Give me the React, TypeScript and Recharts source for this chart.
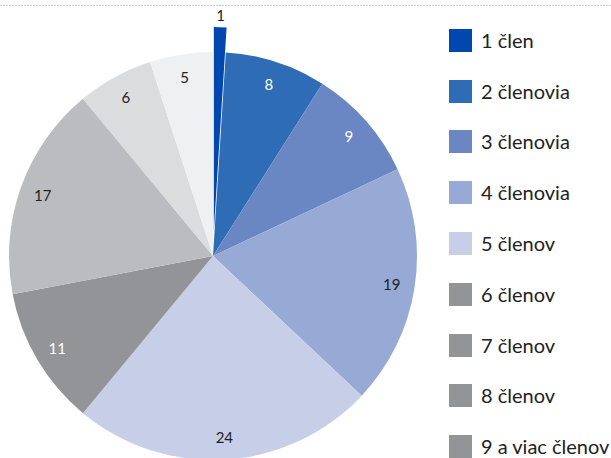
import React from "react";
import { PieChart, Pie, Cell } from "recharts";

const categories = ["1 člen", "2 členovia", "3 členovia", "4 členovia", "5 členov", "6 členov", "7 členov", "8 členov", "9 a viac členov"];
const values = [1, 8, 9, 19, 24, 11, 17, 6, 5];
const sliceColors = ["#0047b0", "#2e6db5", "#6a87c3", "#97aad5", "#c7cfe8", "#939497", "#bbbcbf", "#dbdcde", "#eff0f2"];
const legendColors = ["#0047b0", "#2e6db5", "#6a87c3", "#97aad5", "#c7cfe8", "#939497", "#939497", "#939497", "#939497"];
const labelColors = ["#222", "#fff", "#fff", "#222", "#222", "#fff", "#222", "#222", "#222"];

const data = categories.map((name, i) => ({ name, value: values[i] }));

const RADIAN = Math.PI / 180;
const FONT = "Lato, 'Open Sans', sans-serif";

const renderLabel = (props: any) => {
  const { cx, cy, midAngle, outerRadius, index, value } = props;
  if (index === 0) return null;
  const r = outerRadius - 23;
  const x = cx + r * Math.cos(-midAngle * RADIAN);
  const y = cy + r * Math.sin(-midAngle * RADIAN);
  return (
    <text x={x} y={y} fill={labelColors[index]} textAnchor="middle" dominantBaseline="central" fontSize={15} fontFamily={FONT}>
      {value}
    </text>
  );
};

const renderLabelExploded = (props: any) => {
  const { cx, cy, midAngle, outerRadius, index, value } = props;
  if (index !== 0) return null;
  const r = outerRadius + 12;
  const x = cx + r * Math.cos(-midAngle * RADIAN);
  const y = cy + r * Math.sin(-midAngle * RADIAN);
  return (
    <text x={x} y={y} fill="#222" textAnchor="middle" dominantBaseline="central" fontSize={15} fontFamily={FONT}>
      {value}
    </text>
  );
};

export default function App() {
  const cx = 213;
  const cy = 256;
  const R = 204;
  const explode = 25;
  const firstMid = 90 - (values[0] / values.reduce((a, b) => a + b, 0)) * 180;
  const ecx = cx + explode * Math.cos(firstMid * RADIAN);
  const ecy = cy - explode * Math.sin(firstMid * RADIAN);
  return (
    <div style={{ position: "absolute", left: 0, top: 0, width: 611, height: 458, background: "#fff", fontFamily: FONT, overflow: "hidden" }}>
      <svg width={611} height={10} style={{ position: "absolute", left: 0, top: 0 }}>
        <line x1={0} y1={5.5} x2={611} y2={5.5} stroke="#cfcfcf" strokeWidth={1} strokeDasharray="2 1" />
      </svg>
      <div style={{ position: "absolute", left: 0, top: 0 }}>
        <PieChart width={430} height={458} margin={{ top: 0, right: 0, bottom: 0, left: 0 }}>
          <Pie
            data={data}
            dataKey="value"
            nameKey="name"
            cx={cx}
            cy={cy}
            outerRadius={R}
            startAngle={90}
            endAngle={-270}
            stroke="none"
            labelLine={false}
            label={renderLabel}
            isAnimationActive={false}
          >
            {data.map((d, i) => (
              <Cell key={d.name} fill={i === 0 ? "none" : sliceColors[i]} />
            ))}
          </Pie>
          <Pie
            data={data}
            dataKey="value"
            nameKey="name"
            cx={ecx}
            cy={ecy}
            outerRadius={R}
            startAngle={90}
            endAngle={-270}
            stroke="none"
            labelLine={false}
            label={renderLabelExploded}
            isAnimationActive={false}
          >
            {data.map((d, i) => (
              <Cell key={d.name} fill={i === 0 ? sliceColors[0] : "none"} />
            ))}
          </Pie>
        </PieChart>
      </div>
      <div style={{ position: "absolute", left: 449, top: 15 }}>
        {categories.map((c, i) => (
          <div key={c} style={{ display: "flex", alignItems: "center", height: 50.8 }}>
            <div style={{ width: 23, height: 23, background: legendColors[i], marginRight: 9, flexShrink: 0 }} />
            <span style={{ fontSize: 20, color: "#222", whiteSpace: "nowrap", lineHeight: "23px" }}>{c}</span>
          </div>
        ))}
      </div>
    </div>
  );
}
